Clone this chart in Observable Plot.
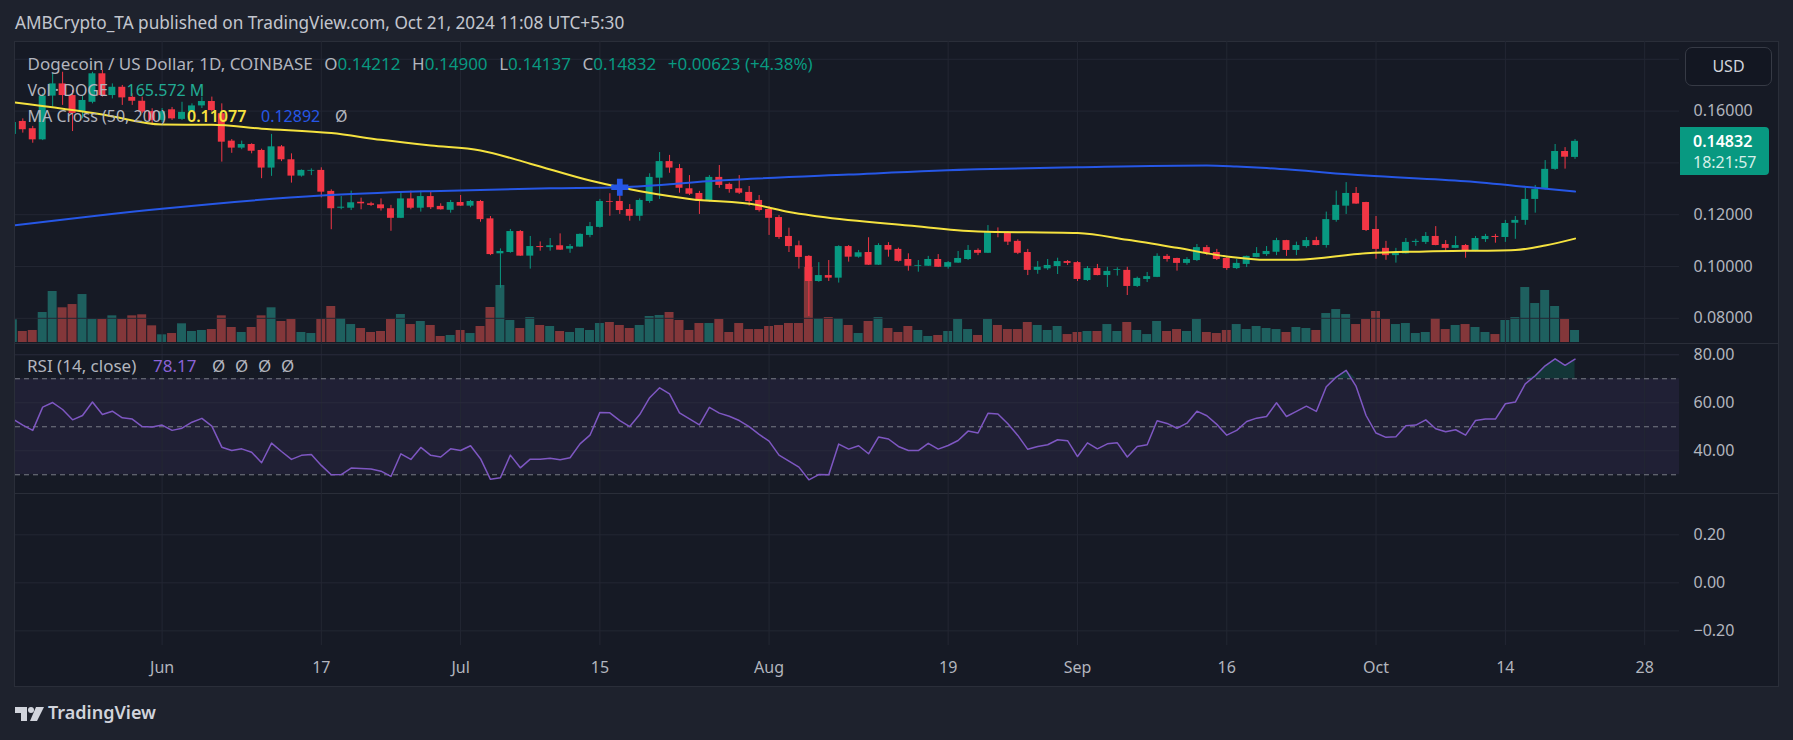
<!DOCTYPE html>
<html><head><meta charset="utf-8">
<script src="https://cdn.jsdelivr.net/npm/d3@7"></script>
<script src="https://cdn.jsdelivr.net/npm/@observablehq/plot@0.6"></script>
<style>
html,body{margin:0;padding:0;background:#1e222d;overflow:hidden;}
#root{position:relative;width:1793px;height:740px;background:#1e222d;overflow:hidden;font-family:"Noto Sans",sans-serif;}
.row{position:absolute;display:flex;align-items:center;white-space:nowrap;line-height:22px;}
.row span{display:inline-block;}
</style></head>
<body><div id="root"></div>
<script>
// ---------- DATA ----------
const firstDay = "2024-05-17", lastDay = "2024-10-21";
const open = [
.1510,.1560,.1532,.1489,.1658,.1705,.1660,.1596,.1634,.1744,
.1660,.1692,.1653,.1638,.1598,.1564,.1605,.1568,.1598,.1620,
.1637,.1590,.1484,.1457,.1471,.1448,.1380,.1462,.1412,.1349,
.1368,.1371,.1290,.1225,.1225,.1248,.1242,.1238,.1223,.1186,
.1261,.1225,.1270,.1232,.1217,.1247,.1233,.1251,.1184,.1049,
.1054,.1135,.1040,.1077,.1073,.1080,.1067,.1075,.1120,.1151,
.1251,.1251,.1220,.1194,.1251,.1341,.1405,.1378,.1300,.1282,
.1251,.1344,.1317,.1300,.1286,.1255,.1220,.1189,.1116,.1080,
.1039,.0942,.0965,.0955,.1077,.1036,.1054,.1005,.1081,.1066,
.1027,.1001,.1001,.1027,.0997,.1013,.1027,.1062,.1051,.1135,
.1129,.1097,.1054,.0985,.0991,.1000,.1019,.1015,.0946,.0992,
.0965,.0985,.0985,.0923,.0950,.0958,.1039,.1031,.1012,.1023,
.1073,.1054,.1031,.0992,.1008,.1035,.1046,.1055,.1100,.1062,
.1077,.1100,.1081,.1178,.1233,.1282,.1247,.1143,.1070,.1042,
.1049,.1093,.1093,.1116,.1085,.1070,.1081,.1058,.1104,.1116,
.1112,.1167,.1178,.1259,.1297,.1375,.1444,.14212];
const high = [
.1568,.1570,.1541,.1667,.1744,.1750,.1680,.1660,.1750,.1757,
.1705,.1699,.1667,.1654,.1609,.1610,.1614,.1634,.1628,.1654,
.1654,.1628,.1490,.1484,.1474,.1453,.1510,.1467,.1435,.1373,
.1377,.1381,.1296,.1270,.1291,.1264,.1248,.1261,.1236,.1287,
.1291,.1291,.1287,.1242,.1255,.1274,.1255,.1255,.1193,.1068,
.1143,.1139,.1116,.1095,.1108,.1126,.1085,.1126,.1170,.1259,
.1281,.1281,.1239,.1261,.1358,.1440,.1429,.1394,.1351,.1290,
.1351,.1390,.1322,.1351,.1309,.1274,.1232,.1197,.1148,.1098,
.1042,.1015,.1023,.1080,.1081,.1062,.1111,.1088,.1092,.1071,
.1049,.1023,.1039,.1046,.1019,.1058,.1081,.1068,.1158,.1149,
.1135,.1103,.1066,.1019,.1027,.1032,.1023,.1019,.1000,.1008,
.0997,.0995,.0997,.0959,.0977,.1049,.1046,.1032,.1034,.1085,
.1081,.1066,.1039,.1027,.1040,.1073,.1077,.1109,.1101,.1094,
.1112,.1113,.1210,.1291,.1324,.1305,.1248,.1193,.1097,.1070,
.1108,.1105,.1131,.1154,.1100,.1116,.1085,.1116,.1124,.1124,
.1178,.1193,.1302,.1313,.1409,.1471,.1459,.14900];
const low = [
.1498,.1515,.1476,.1486,.1615,.1622,.1521,.1570,.1628,.1654,
.1647,.1622,.1622,.1590,.1544,.1556,.1564,.1564,.1596,.1610,
.1596,.1403,.1437,.1451,.1435,.1339,.1348,.1405,.1322,.1345,
.1351,.1265,.1142,.1219,.1216,.1219,.1232,.1214,.1136,.1185,
.1219,.1210,.1220,.1218,.1206,.1232,.1227,.1171,.1042,.0916,
.1051,.1039,.0990,.1059,.1059,.1062,.1051,.1074,.1111,.1148,
.1194,.1201,.1175,.1175,.1244,.1259,.1360,.1283,.1274,.1201,
.1248,.1302,.1283,.1278,.1233,.1210,.1120,.1105,.1054,.0990,
.0807,.0939,.0942,.0936,.1017,.1032,.1004,.1004,.1036,.1017,
.0982,.0978,.1000,.0996,.0990,.1012,.1023,.1042,.1050,.1111,
.1081,.1046,.0965,.0970,.0985,.0969,.1004,.0942,.0942,.0964,
.0919,.0963,.0888,.0919,.0938,.0957,.1017,.0982,.1005,.1019,
.1042,.1023,.0985,.0988,.0996,.1034,.1039,.1042,.1039,.1042,
.1071,.1080,.1071,.1171,.1201,.1240,.1135,.1028,.1024,.1013,
.1048,.1078,.1085,.1080,.1055,.1069,.1032,.1057,.1093,.1090,
.1093,.1105,.1159,.1206,.1295,.1371,.1376,.14137];
const close = [
.1556,.1528,.1489,.1658,.1705,.1660,.1591,.1641,.1744,.1660,
.1692,.1651,.1638,.1596,.1564,.1598,.1570,.1595,.1620,.1637,
.1602,.1480,.1457,.1471,.1445,.1380,.1462,.1412,.1349,.1371,
.1371,.1287,.1223,.1229,.1246,.1242,.1236,.1223,.1186,.1261,
.1225,.1270,.1227,.1219,.1247,.1233,.1251,.1181,.1046,.1058,
.1135,.1040,.1077,.1073,.1080,.1063,.1077,.1124,.1154,.1251,
.1248,.1216,.1194,.1255,.1344,.1405,.1380,.1302,.1279,.1251,
.1344,.1313,.1297,.1283,.1251,.1216,.1186,.1112,.1077,.1035,
.0942,.0965,.0955,.1077,.1036,.1053,.1005,.1081,.1063,.1020,
.1001,.1004,.1027,.0997,.1015,.1031,.1062,.1051,.1131,.1129,
.1094,.1051,.0985,.0997,.1004,.1019,.1012,.0950,.0992,.0965,
.0981,.0988,.0923,.0954,.0961,.1039,.1027,.1012,.1027,.1073,
.1051,.1027,.0992,.1012,.1039,.1050,.1058,.1100,.1062,.1081,
.1100,.1081,.1181,.1236,.1282,.1241,.1139,.1066,.1042,.1050,
.1093,.1097,.1116,.1081,.1070,.1081,.1058,.1108,.1116,.1112,
.1166,.1178,.1259,.1297,.1375,.1444,.1422,.14832];
// volume, millions of DOGE
const volume = [
313,152,166,414,704,479,524,662,317,317,
368,317,368,382,230,106,124,258,152,166,
179,368,207,138,207,368,479,290,317,138,
124,317,497,331,248,193,138,152,317,386,
248,290,235,83,97,166,124,221,483,787,
304,193,345,235,221,152,138,193,166,262,
276,235,193,235,359,373,414,304,166,262,
262,317,138,262,179,179,221,235,262,262,
1039,331,345,331,235,124,290,345,193,138,
221,166,83,97,152,317,179,97,317,235,
179,179,276,235,166,221,110,138,152,152,
248,152,276,166,110,290,152,179,152,317,
138,124,166,248,179,221,193,179,138,207,
193,166,400,455,386,248,317,428,317,248,
262,124,138,331,179,235,248,207,138,110,
304,345,759,538,718,497,317,165.572];
const rsi = [
53.2,50.7,48.5,58.2,60.1,57.2,52.9,54.7,60.3,55.1,
56.5,53.75,53.2,50.1,49.9,50.7,48.5,49.4,51.9,53.5,
50.3,41.5,40.1,40.8,39.4,35.0,43.2,39.7,36.4,38.1,
38.5,33.9,30.0,30.1,32.8,32.6,32.4,31.5,29.3,38.75,
36.4,41.4,38.1,37.4,40.8,40.1,42.1,36.7,28.1,28.75,
38.2,32.9,36.5,36.5,36.9,36.25,37.1,42.9,46.5,56.0,
55.8,52.6,50.1,55.1,62.1,66.25,63.75,55.8,53.3,50.8,
58.1,55.7,54.4,52.6,50.1,46.8,44.0,38.2,35.7,33.2,
27.9,30.1,30.0,42.8,40.7,42.1,38.75,45.7,44.9,41.8,
40.1,40.1,43.1,40.7,42.2,44.3,48.2,47.4,55.6,55.3,
51.25,46.4,40.6,41.8,42.5,44.6,44.2,37.6,43.3,40.8,
42.9,43.3,37.4,41.8,42.5,52.5,51.4,49.4,51.5,56.5,
54.6,51.0,46.5,48.5,52.2,53.6,54.3,60.0,54.3,56.4,
58.6,56.4,66.7,70.7,73.5,66.8,54.7,47.4,45.6,45.8,
50.4,50.7,52.9,49.2,47.9,48.75,46.5,52.6,53.2,53.2,
59.6,60.3,67.9,71.25,75.4,78.3,75.6,78.17];
const ma50Dates = ["2024-05-17","2024-05-26","2024-06-01","2024-06-06","2024-06-11","2024-06-18","2024-06-23","2024-06-28","2024-07-03","2024-07-08","2024-07-14","2024-07-17","2024-07-24","2024-07-31","2024-08-03","2024-08-06","2024-08-15","2024-08-22","2024-09-01","2024-09-06","2024-09-11","2024-09-16","2024-09-20","2024-09-23","2024-09-30","2024-10-06","2024-10-15","2024-10-18","2024-10-21"];
const ma50 = [.1634,.1587,.1548,.1547,.1532,.1515,.1489,.1467,.1448,.1397,.1332,.1306,.1261,.1236,.1210,.1193,.1158,.1135,.1129,.1103,.1072,.1039,.1026,.1026,.1051,.1058,.1064,.1081,.11077];
const ma200Dates = ["2024-05-17","2024-06-01","2024-06-17","2024-06-28","2024-07-10","2024-07-17","2024-07-27","2024-08-09","2024-08-22","2024-09-01","2024-09-14","2024-09-17","2024-09-20","2024-09-30","2024-10-10","2024-10-17","2024-10-21"];
const ma200 = [.1158,.1223,.1274,.1291,.1302,.1306,.1332,.1355,.1375,.1383,.1390,.1386,.1380,.1351,.1329,.1304,.12892];
const crossDates = ["2024-07-17"];
const crossValues = [0.1306];
const priceTicks = [0.08, 0.10, 0.12, 0.16];
const priceGrid = [0.08, 0.10, 0.12, 0.14, 0.16, 0.18];
const rsiTicks = [80, 60, 40];
const rsiLevels = [70, 50, 30];
const lowerTicks = [0.2, 0, -0.2];
const xTickDates = ["2024-06-01","2024-06-17","2024-07-01","2024-07-15","2024-08-01","2024-08-19","2024-09-01","2024-09-16","2024-10-01","2024-10-14","2024-10-28"];
const xTickLabels = ["Jun","17","Jul","15","Aug","19","Sep","16","Oct","14","28"];

// ---------- helpers ----------
const DAY = 864e5;
const GREEN = "#089981", RED = "#f23645";
const YELLOW = "#f5e23f", BLUE = "#2657e6", PURPLE = "#7e57c2";
const GRID = "#232733", AXIS_TXT = "#b2b5be";
const root = document.getElementById("root");
const W = 1793, ML = 15, MR = 114;
const base = Date.UTC(2024, 4, 18);
const xDomain = [new Date(base - 0.734 * DAY), new Date(base + 166.5 * DAY)];
const xOpt = {type: "utc", domain: xDomain, axis: null};
const styleOpt = {background: "transparent", color: AXIS_TXT, fontFamily: "'Noto Sans', sans-serif", fontSize: "16px", overflow: "visible"};

const days = d3.utcDay.range(new Date(firstDay), d3.utcDay.offset(new Date(lastDay), 1));
const candles = days.map((date, i) => ({date, o: open[i], h: high[i], l: low[i], c: close[i], v: volume[i], rsi: rsi[i], up: close[i] >= open[i]}));
const ma50Data = ma50Dates.map((d, i) => ({date: new Date(d), v: ma50[i]}));
const ma200Data = ma200Dates.map((d, i) => ({date: new Date(d), v: ma200[i]}));
const crossData = crossDates.map((d, i) => ({date: new Date(d), v: crossValues[i]}));
const xTicks = xTickDates.map(d => new Date(d));
const labelOf = new Map(xTicks.map((d, i) => [+d, xTickLabels[i]]));

function div(css, text) { const e = document.createElement("div"); e.style.cssText = "position:absolute;" + css; if (text != null) e.textContent = text; root.appendChild(e); return e; }
function place(svg, top) { svg.style.position = "absolute"; svg.style.left = "0px"; svg.style.top = top + "px"; root.appendChild(svg); }
function txt(t, x, cy, color, size = 16, weight = 400) { return div(`left:${x}px;top:${cy - 11}px;line-height:22px;font-size:${size}px;color:${color};white-space:nowrap;font-weight:${weight};`, t); }
function row(x, cy, size, parts) {
  const r = document.createElement("div"); r.className = "row";
  r.style.left = x + "px"; r.style.top = (cy - 11) + "px"; r.style.fontSize = size + "px";
  parts.forEach(([t, color, gap, weight]) => { const s = document.createElement("span"); s.textContent = t; s.style.color = color; s.style.marginLeft = (gap || 0) + "px"; if (weight) s.style.fontWeight = weight; r.appendChild(s); });
  root.appendChild(r); return r;
}

// ---------- frame ----------
div("left:14px;top:41px;width:1763px;height:644px;background:#161a25;border:1px solid #2a2e39;");
div("left:15px;top:343px;width:1763px;height:1px;background:#2a2e39;");
div("left:15px;top:493px;width:1763px;height:1px;background:#2a2e39;");

// ---------- volume (own scale, under candles) ----------
place(Plot.plot({
  width: W, height: 302, marginLeft: ML, marginRight: MR, marginTop: 221.3, marginBottom: 1,
  x: xOpt, y: {domain: [0, 1100], axis: null}, style: styleOpt,
  marks: [
    Plot.rect(candles, {x1: d => new Date(+d.date - 0.45 * DAY), x2: d => new Date(+d.date + 0.45 * DAY), y1: d => 0, y2: "v",
      fill: d => d.up ? "#26a69a" : "#ef5350", fillOpacity: 0.5, clip: true})
  ]
}), 41);

// ---------- price pane ----------
place(Plot.plot({
  width: W, height: 302, marginLeft: ML, marginRight: MR, marginTop: 0, marginBottom: 0,
  x: xOpt, y: {domain: [0.07027, 0.18687], axis: null}, style: styleOpt,
  marks: [
    Plot.gridX(xTicks, {stroke: GRID, strokeOpacity: 1}),
    Plot.gridY(priceGrid, {stroke: GRID, strokeOpacity: 1}),
    Plot.ruleX(candles, {x: "date", y1: "l", y2: "h", stroke: d => d.up ? GREEN : RED, strokeWidth: 1, clip: true}),
    Plot.rect(candles, {x1: d => new Date(+d.date - 0.35 * DAY), x2: d => new Date(+d.date + 0.35 * DAY), y1: "o", y2: "c",
      fill: d => d.up ? GREEN : RED, clip: true}),
    Plot.line(ma200Data, {x: "date", y: "v", stroke: BLUE, strokeWidth: 2, curve: "monotone-x", clip: true}),
    Plot.line(ma50Data, {x: "date", y: "v", stroke: YELLOW, strokeWidth: 2, curve: "monotone-x", clip: true}),
    Plot.dot(crossData, {x: "date", y: "v", symbol: "cross", r: 7.2, fill: BLUE, stroke: "none"}),
    Plot.axisY(priceTicks, {anchor: "right", tickSize: 0, tickPadding: 14, tickFormat: d3.format(".5f"), fontSize: 16})
  ]
}), 41);

// ---------- RSI pane ----------
place(Plot.plot({
  width: W, height: 150, marginLeft: ML, marginRight: MR, marginTop: 0, marginBottom: 0,
  x: xOpt, y: {domain: [22.2, 84.7], axis: null}, style: styleOpt,
  marks: [
    Plot.rect([{a: rsiLevels[2], b: rsiLevels[0]}], {x1: () => xDomain[0], x2: () => xDomain[1], y1: "a", y2: "b", fill: PURPLE, fillOpacity: 0.1}),
    Plot.gridX(xTicks, {stroke: GRID, strokeOpacity: 1}),
    Plot.gridY(rsiTicks, {stroke: "#2a2b3d", strokeOpacity: 1}),
    Plot.ruleY(rsiLevels, {stroke: "#787b86", strokeDasharray: "5,4", strokeWidth: 1}),
    Plot.areaY(candles, {x: "date", y1: 70, y2: d => Math.max(d.rsi, 70), fill: GREEN, fillOpacity: 0.22, clip: true}),
    Plot.line(candles, {x: "date", y: "rsi", stroke: PURPLE, strokeWidth: 1.5, clip: true}),
    Plot.axisY(rsiTicks, {anchor: "right", tickSize: 0, tickPadding: 14, tickFormat: d3.format(".2f"), fontSize: 16})
  ]
}), 343);

// ---------- lower (empty) pane + time axis ----------
place(Plot.plot({
  width: W, height: 193, marginLeft: ML, marginRight: MR, marginTop: 0, marginBottom: 41,
  x: xOpt, y: {domain: [-0.261, 0.372], axis: null}, style: styleOpt,
  marks: [
    Plot.gridX(xTicks, {stroke: GRID, strokeOpacity: 1}),
    Plot.gridY(lowerTicks, {stroke: GRID, strokeOpacity: 1}),
    Plot.axisY(lowerTicks, {anchor: "right", tickSize: 0, tickPadding: 14, tickFormat: d3.format(".2f"), fontSize: 16}),
    Plot.axisX(xTicks, {anchor: "bottom", tickSize: 0, tickPadding: 16, tickFormat: d => labelOf.get(+d), fontSize: 16})
  ]
}), 493);

// ---------- texts ----------
txt("AMBCrypto_TA published on TradingView.com, Oct 21, 2024 11:08 UTC+5:30", 15, 23, "#c3c6ce", 17.2);

row(27.5, 64, 17, [
  ["Dogecoin / US Dollar, 1D, COINBASE", AXIS_TXT],
  ["O", AXIS_TXT, 11.6], ["0.14212", GREEN],
  ["H", AXIS_TXT, 11.6], ["0.14900", GREEN],
  ["L", AXIS_TXT, 11.6], ["0.14137", GREEN],
  ["C", AXIS_TXT, 11.6], ["0.14832", GREEN],
  ["+0.00623 (+4.38%)", GREEN, 11.6]
]);

txt("Vol · DOGE", 27.5, 90, AXIS_TXT); txt("165.572 M", 126.5, 90, "#22ab94");
txt("MA Cross (50, 200)", 27.5, 116, AXIS_TXT);
txt("0.11077", 187, 116, YELLOW, 16, 600);
txt("0.12892", 261, 116, BLUE);
txt("Ø", 335, 116, AXIS_TXT);

txt("RSI (14, close)", 27, 366, AXIS_TXT, 17);
txt("78.17", 153, 366, "#8b63d6", 17);
[212, 235, 258, 281].forEach(x => txt("Ø", x, 366, AXIS_TXT, 17));

// USD button and last-price label
div("left:1685px;top:47px;width:85px;height:37px;border:1px solid #363a45;border-radius:7px;background:#131722;color:#d1d4dc;font-size:16px;line-height:37px;text-align:center;", "USD");
div("left:1680px;top:127px;width:89px;height:48px;background:#089981;border-radius:0 4px 4px 0;");
txt("0.14832", 1693, 140.5, "#ffffff", 16, 600);
txt("18:21:57", 1693, 161.5, "#d5efe9", 16);

// TradingView footer logo
const logo = div("left:15px;top:705px;width:30px;height:15px;");
logo.innerHTML = '<svg width="30" height="15" viewBox="0 0 30 15"><path d="M0 0H12V14H6V6H0Z" fill="#d1d4dc"/><circle cx="16" cy="3" r="3" fill="#d1d4dc"/><path d="M21 0H29L22 14H15Z" fill="#d1d4dc"/></svg>';
txt("TradingView", 48, 712, "#d1d4dc", 18, 600);
</script>
</body></html>
